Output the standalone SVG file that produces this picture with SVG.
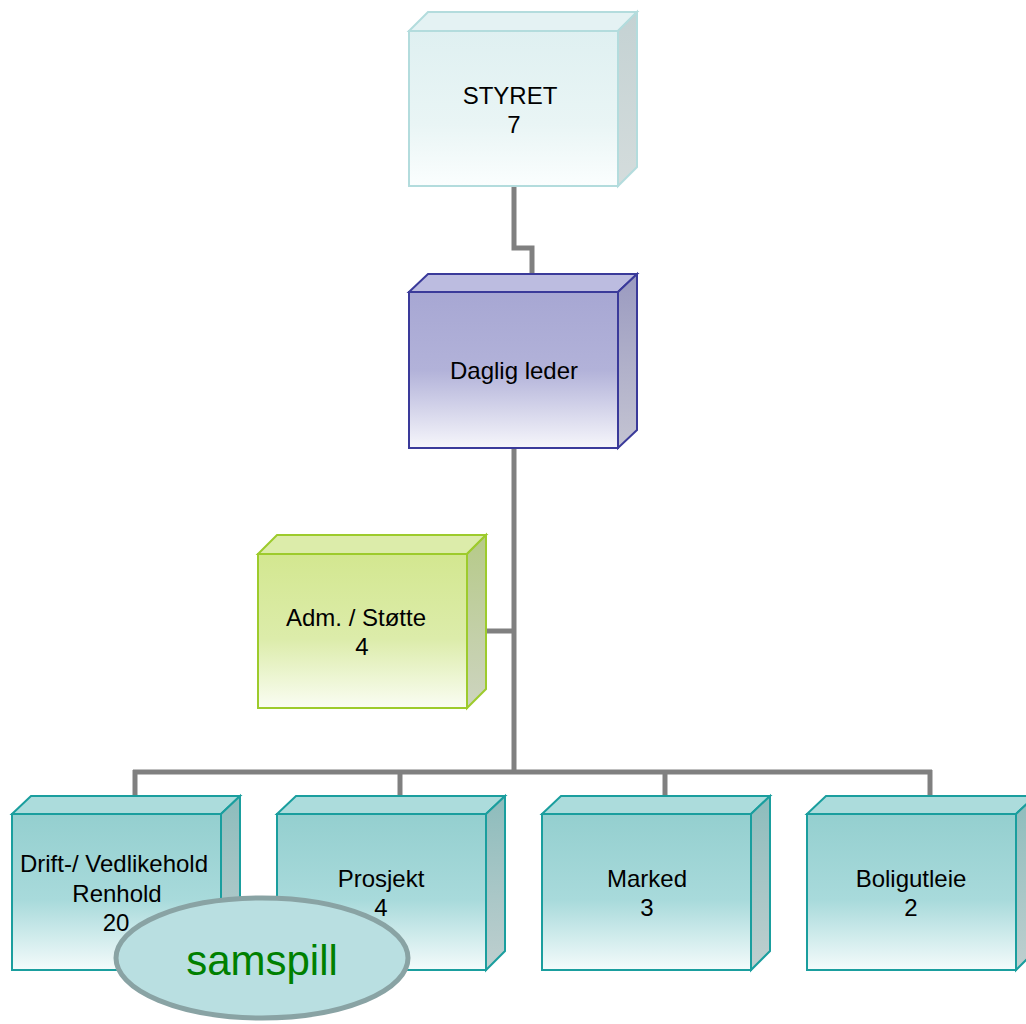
<svg xmlns="http://www.w3.org/2000/svg" width="1026" height="1024" viewBox="0 0 1026 1024">
<defs>
<linearGradient id="gS" x1="0" y1="0" x2="0" y2="1"><stop offset="0" stop-color="#dff0f1"/><stop offset="0.6" stop-color="#e9f5f5"/><stop offset="1" stop-color="#fbfefe"/></linearGradient>
<linearGradient id="gSs" x1="0" y1="0" x2="0" y2="1"><stop offset="0" stop-color="#c4d2d3"/><stop offset="1" stop-color="#d4dcdc"/></linearGradient>
<linearGradient id="gD" x1="0" y1="0" x2="0" y2="1"><stop offset="0" stop-color="#a7a7d3"/><stop offset="0.5" stop-color="#b2b2d9"/><stop offset="1" stop-color="#f6f6fb"/></linearGradient>
<linearGradient id="gDs" x1="0" y1="0" x2="0" y2="1"><stop offset="0" stop-color="#9a9ac0"/><stop offset="1" stop-color="#c4c4d2"/></linearGradient>
<linearGradient id="gA" x1="0" y1="0" x2="0" y2="1"><stop offset="0" stop-color="#d3e790"/><stop offset="0.55" stop-color="#dcecaa"/><stop offset="1" stop-color="#fafdf3"/></linearGradient>
<linearGradient id="gAs" x1="0" y1="0" x2="0" y2="1"><stop offset="0" stop-color="#b6ca88"/><stop offset="1" stop-color="#cdd4c0"/></linearGradient>
<linearGradient id="gT" x1="0" y1="0" x2="0" y2="1"><stop offset="0" stop-color="#94cfcf"/><stop offset="0.55" stop-color="#a8dadb"/><stop offset="1" stop-color="#f4fbfb"/></linearGradient>
<linearGradient id="gTs" x1="0" y1="0" x2="0" y2="1"><stop offset="0" stop-color="#8dbcbc"/><stop offset="1" stop-color="#bfcfcf"/></linearGradient>
</defs>
<style>
text{font-family:"Liberation Sans",Arial,sans-serif;font-size:24px;fill:#000;text-anchor:middle}
.c{fill:none;stroke:#808080;stroke-width:5}
.s{stroke:#b3dcdd;stroke-width:2}
.d{stroke:#3a3a9a;stroke-width:2}
.a{stroke:#9dcb2c;stroke-width:2}
.t{stroke:#1a9e9e;stroke-width:2}
</style>
<g id="connectors">
<polyline class="c" points="514,186 514,248 532,248 532,274"/>
<line class="c" x1="514" y1="448" x2="514" y2="772"/>
<line class="c" x1="467" y1="631" x2="514" y2="631"/>
<line class="c" x1="133" y1="772" x2="932" y2="772"/>
<line class="c" x1="135" y1="770" x2="135" y2="797"/>
<line class="c" x1="400" y1="770" x2="400" y2="797"/>
<line class="c" x1="665" y1="770" x2="665" y2="797"/>
<line class="c" x1="930" y1="770" x2="930" y2="797"/>
</g>
<g id="styret">
<polygon class="s" fill="#e4f2f3" points="409,31 428,12 637,12 618,31"/>
<polygon class="s" fill="url(#gSs)" points="618,31 637,12 637,167 618,186"/>
<rect class="s" fill="url(#gS)" x="409" y="31" width="209" height="155"/>
<text x="510" y="104">STYRET</text>
<text x="514" y="133">7</text>
</g>
<g id="daglig">
<polygon class="d" fill="#bcbce0" points="409,292 428,274 637,274 618,292"/>
<polygon class="d" fill="url(#gDs)" points="618,292 637,274 637,430 618,448"/>
<rect class="d" fill="url(#gD)" x="409" y="292" width="209" height="156"/>
<text x="514" y="379">Daglig leder</text>
</g>
<g id="adm">
<polygon class="a" fill="#dcecaa" points="258,554 277,535 486,535 467,554"/>
<polygon class="a" fill="url(#gAs)" points="467,554 486,535 486,689 467,708"/>
<rect class="a" fill="url(#gA)" x="258" y="554" width="209" height="154"/>
<text x="356" y="626">Adm. / Støtte</text>
<text x="362" y="655">4</text>
</g>
<g id="drift">
<polygon class="t" fill="#acdcdc" points="12,814 31,796 240,796 221,814"/>
<polygon class="t" fill="url(#gTs)" points="221,814 240,796 240,951 221,970"/>
<rect class="t" fill="url(#gT)" x="12" y="814" width="209" height="156"/>
<text x="114" y="872">Drift-/ Vedlikehold</text>
<text x="117" y="902">Renhold</text>
<text x="116" y="931">20</text>
</g>
<g id="prosjekt">
<polygon class="t" fill="#acdcdc" points="277,814 296,796 505,796 486,814"/>
<polygon class="t" fill="url(#gTs)" points="486,814 505,796 505,951 486,970"/>
<rect class="t" fill="url(#gT)" x="277" y="814" width="209" height="156"/>
<text x="381" y="887">Prosjekt</text>
<text x="381" y="916">4</text>
</g>
<g id="marked">
<polygon class="t" fill="#acdcdc" points="542,814 561,796 770,796 751,814"/>
<polygon class="t" fill="url(#gTs)" points="751,814 770,796 770,951 751,970"/>
<rect class="t" fill="url(#gT)" x="542" y="814" width="209" height="156"/>
<text x="647" y="887">Marked</text>
<text x="647" y="916">3</text>
</g>
<g id="boligutleie">
<polygon class="t" fill="#acdcdc" points="807,814 826,796 1035,796 1016,814"/>
<polygon class="t" fill="url(#gTs)" points="1016,814 1035,796 1035,951 1016,970"/>
<rect class="t" fill="url(#gT)" x="807" y="814" width="209" height="156"/>
<text x="911" y="887">Boligutleie</text>
<text x="911" y="916">2</text>
</g>
<g id="samspill">
<ellipse cx="262" cy="958" rx="146" ry="60" fill="#b9dfe1" stroke="#89a3a4" stroke-width="5"/>
<text x="262" y="975" style="font-size:42px;fill:#008000">samspill</text>
</g>
</svg>
